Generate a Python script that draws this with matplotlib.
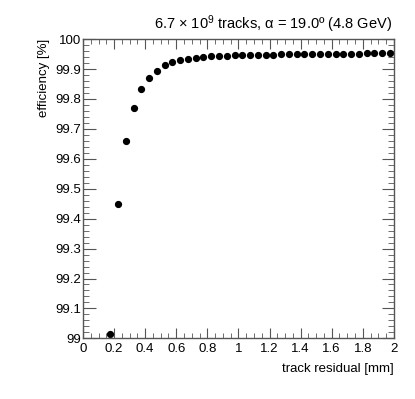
import numpy as np
import matplotlib
matplotlib.use("Agg")
import matplotlib.pyplot as plt
from matplotlib.ticker import MultipleLocator, FormatStrFormatter

# data
residual = [0.175, 0.225, 0.275, 0.325, 0.375, 0.425, 0.475, 0.525, 0.575, 0.625,
            0.675, 0.725, 0.775, 0.825, 0.875, 0.925, 0.975, 1.025, 1.075, 1.125,
            1.175, 1.225, 1.275, 1.325, 1.375, 1.425, 1.475, 1.525, 1.575, 1.625,
            1.675, 1.725, 1.775, 1.825, 1.875, 1.925, 1.975]
efficiency = [99.016, 99.449, 99.661, 99.770, 99.833, 99.871, 99.895, 99.912, 99.922, 99.929,
              99.934, 99.938, 99.941, 99.943, 99.944, 99.945, 99.946, 99.947, 99.947, 99.948,
              99.948, 99.948, 99.949, 99.949, 99.949, 99.950, 99.950, 99.950, 99.950, 99.951,
              99.951, 99.951, 99.951, 99.952, 99.952, 99.952, 99.952]

plt.rcParams['font.family'] = ['Liberation Sans', 'DejaVu Sans']
plt.rcParams['mathtext.fontset'] = 'custom'
plt.rcParams['mathtext.rm'] = 'Liberation Sans'
plt.rcParams['mathtext.it'] = 'Liberation Sans'

fig = plt.figure(figsize=(4.15, 3.99), dpi=100)
ax = fig.add_axes([0.2, 0.152, 0.749, 0.75])

ax.plot(residual, efficiency, 'o', color='black', markersize=4.2)

ax.set_xlim(0, 2)
ax.set_ylim(99, 100)
ax.xaxis.set_major_locator(MultipleLocator(0.2))
ax.xaxis.set_minor_locator(MultipleLocator(0.05))
ax.yaxis.set_major_locator(MultipleLocator(0.1))
ax.yaxis.set_minor_locator(MultipleLocator(0.02))
ax.xaxis.set_major_formatter(FormatStrFormatter('%g'))
ax.yaxis.set_major_formatter(FormatStrFormatter('%g'))

frame_col = '#555555'
for s in ax.spines.values():
    s.set_color(frame_col)
    s.set_linewidth(1.0)
ax.tick_params(which='both', direction='in', top=True, right=True, colors=frame_col,
               labelcolor='black', labelsize=9.5)
ax.tick_params(axis='y', which='major', length=9, pad=1)
ax.tick_params(axis='y', which='minor', length=4.5)
ax.tick_params(axis='x', which='major', length=7, pad=3)
ax.tick_params(axis='x', which='minor', length=3.5)

ax.set_xlabel('track residual [mm]', fontsize=9.5, loc='right', labelpad=6)
ax.set_ylabel('efficiency [%]', fontsize=9.5, loc='top')

fig.text(0.945, 0.928, '6.7 $\\times$ 10$^{9}$ tracks, \u03b1 = 19.0º (4.8 GeV)',
         ha='right', va='baseline', fontsize=10.5)

fig.savefig('out.png', dpi=100)
